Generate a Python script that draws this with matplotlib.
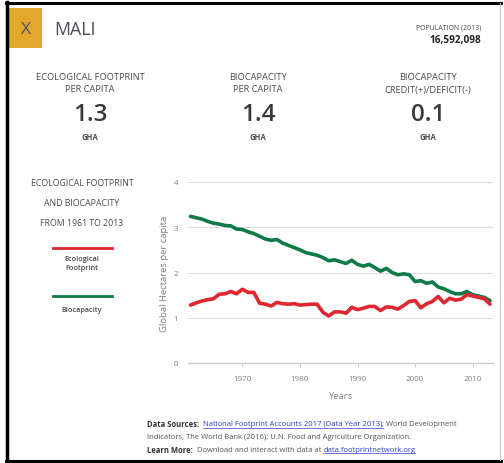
import matplotlib
matplotlib.use("Agg")
import matplotlib.pyplot as plt
from matplotlib.patches import Rectangle
from matplotlib.lines import Line2D

plt.rcParams['font.family'] = ['Open Sans', 'DejaVu Sans']

years = list(range(1961, 2014))
biocapacity = [3.24, 3.21, 3.18, 3.13, 3.09, 3.07, 3.04, 3.03, 2.96, 2.95,
               2.90, 2.86, 2.80, 2.74, 2.71, 2.73, 2.65, 2.60, 2.55, 2.50,
               2.44, 2.41, 2.38, 2.33, 2.26, 2.28, 2.24, 2.20, 2.27, 2.18,
               2.14, 2.18, 2.11, 2.03, 2.09, 2.00, 1.95, 1.97, 1.95, 1.80,
               1.82, 1.76, 1.79, 1.68, 1.64, 1.58, 1.53, 1.53, 1.58, 1.51,
               1.48, 1.45, 1.38]
footprint = [1.28, 1.33, 1.37, 1.40, 1.42, 1.52, 1.53, 1.58, 1.53, 1.63,
             1.56, 1.56, 1.32, 1.30, 1.26, 1.34, 1.31, 1.30, 1.31, 1.28,
             1.29, 1.30, 1.30, 1.12, 1.04, 1.13, 1.13, 1.10, 1.23, 1.18,
             1.21, 1.25, 1.25, 1.16, 1.24, 1.23, 1.19, 1.27, 1.36, 1.38,
             1.22, 1.31, 1.36, 1.47, 1.33, 1.43, 1.39, 1.41, 1.51, 1.48,
             1.45, 1.42, 1.30]
yticks = [0, 1, 2, 3, 4]
xticks = [1970, 1980, 1990, 2000, 2010]

country = "MALI"
population = "16,592,098"
stat_titles = [["ECOLOGICAL FOOTPRINT", "PER CAPITA"],
               ["BIOCAPACITY", "PER CAPITA"],
               ["BIOCAPACITY", "CREDIT(+)/DEFICIT(-)"]]
stat_values = ["1.3", "1.4", "0.1"]

GREEN = "#0f7a45"
RED = "#e0262f"
GOLD = "#e2aa2c"
TXT = "#4a4a4a"
GRAY = "#808080"

W, H = 504, 464
fig = plt.figure(figsize=(W / 100, H / 100), dpi=100)
fig.patch.set_facecolor("white")

def fx(x):
    return x / W

def fy(y):
    return 1 - y / H

# border
fig.add_artist(Line2D([fx(7), fx(7)], [fy(3), fy(462)], color="black", lw=2.5))
fig.add_artist(Line2D([fx(6), fx(501)], [fy(4), fy(4)], color="black", lw=2.2))
fig.add_artist(Line2D([fx(6), fx(501)], [fy(461.5), fy(461.5)], color="black", lw=2.2))
fig.add_artist(Line2D([fx(500), fx(500)], [fy(4), fy(461)], color="#cccccc", lw=0.8))

# header
fig.add_artist(Rectangle((fx(9), fy(49)), fx(42) - fx(9), fy(9) - fy(49),
                         color=GOLD, lw=0))
fig.text(fx(25.5), fy(30), "X", ha="center", va="center", fontsize=12.5,
         color="#5a4a6a")
fig.text(fx(54), fy(30), country, ha="left", va="center", fontsize=12.8,
         color="#4a4a5a")
fig.text(fx(481), fy(28), "POPULATION (2013)", ha="right", va="center",
         fontsize=5.0, color=TXT)
fig.text(fx(481), fy(40), population, ha="right", va="center",
         fontsize=7.2, color="#222222", fontweight="bold")

col_x = [90, 258, 428]
for cx, title, val in zip(col_x, stat_titles, stat_values):
    fig.text(fx(cx), fy(78), title[0], ha="center", va="center", fontsize=6.7, color=TXT)
    fig.text(fx(cx), fy(90), title[1], ha="center", va="center", fontsize=6.7, color=TXT)
    fig.text(fx(cx), fy(115), val, ha="center", va="center", fontsize=17.5,
             color="#3a3a3a", fontweight="semibold")
    fig.text(fx(cx), fy(137), "GHA", ha="center", va="center", fontsize=5.5,
             color=TXT, fontweight="bold")

# left legend panel
for yy, s in zip([184, 203, 223], ["ECOLOGICAL FOOTPRINT", "AND BIOCAPACITY", "FROM 1961 TO 2013"]):
    fig.text(fx(82), fy(yy), s, ha="center", va="center", fontsize=6.3, color=TXT)
fig.add_artist(Line2D([fx(53), fx(112)], [fy(249), fy(249)], color=RED, lw=2))
fig.text(fx(82), fy(260), "Ecological", ha="center", va="center", fontsize=5.2,
         color=TXT, fontweight="semibold")
fig.text(fx(82), fy(268), "Footprint", ha="center", va="center", fontsize=5.2,
         color=TXT, fontweight="semibold")
fig.add_artist(Line2D([fx(53), fx(112)], [fy(297), fy(297)], color=GREEN, lw=2))
fig.text(fx(82), fy(310), "Biocapacity", ha="center", va="center", fontsize=5.2,
         color=TXT, fontweight="semibold")

# chart
ax = fig.add_axes([fx(188), fy(364), fx(493) - fx(188), fy(183) - fy(364)])
ax.set_facecolor("white")
ax.plot(years, biocapacity, color=GREEN, lw=2.6, solid_capstyle="round", solid_joinstyle="round", zorder=3)
ax.plot(years, footprint, color=RED, lw=2.6, solid_capstyle="round", solid_joinstyle="round", zorder=4)
ax.set_xlim(1960.57, 2013.52)
ax.set_ylim(0, 4)
ax.set_yticks(yticks)
ax.set_xticks(xticks)
ax.grid(axis="y", color="#dddddd", lw=0.8)
ax.set_axisbelow(True)
for sp in ["top", "right", "left"]:
    ax.spines[sp].set_visible(False)
ax.spines["bottom"].set_color("#cccccc")
ax.spines["bottom"].set_linewidth(1.0)
ax.tick_params(axis="y", length=0, labelsize=5.8, labelcolor=GRAY, pad=7)
ax.tick_params(axis="x", length=3, color="#cccccc", labelsize=5.8, labelcolor=GRAY, pad=6)
ax.set_ylabel("Global Hectares per capita", fontsize=6.8, color=GRAY, labelpad=3)
ax.set_xlabel("Years", fontsize=6.8, color=GRAY, labelpad=6)
for l in ax.lines:
    l.set_clip_on(False)

# footer
fig.canvas.draw()
renderer = fig.canvas.get_renderer()

def run(x, y, parts):
    for s, kw in parts:
        t = fig.text(fx(x), fy(y), s, ha="left", va="center", fontsize=5.5, **kw)
        bb = t.get_window_extent(renderer)
        if kw.get("color") == "#2b3fcf":
            fig.add_artist(Line2D([fx(x), fx(x + bb.width)], [fy(y + 3.8), fy(y + 3.8)],
                                  color="#2b3fcf", lw=0.5))
        x += bb.width

plain = dict(color="#555555")
bold = dict(color="#333333", fontweight="bold")
link = dict(color="#2b3fcf")
run(147, 425, [("Data Sources:  ", bold),
               ("National Footprint Accounts 2017 (Data Year 2013)", link),
               ("; World Development", plain)])
run(147, 437.5, [("Indicators, The World Bank (2016); U.N. Food and Agriculture Organization.", plain)])
run(147, 450.5, [("Learn More:  ", bold),
                 ("Download and interact with data at ", plain),
                 ("data.footprintnetwork.org", link)])

fig.savefig("out.png", dpi=100, facecolor="white")
